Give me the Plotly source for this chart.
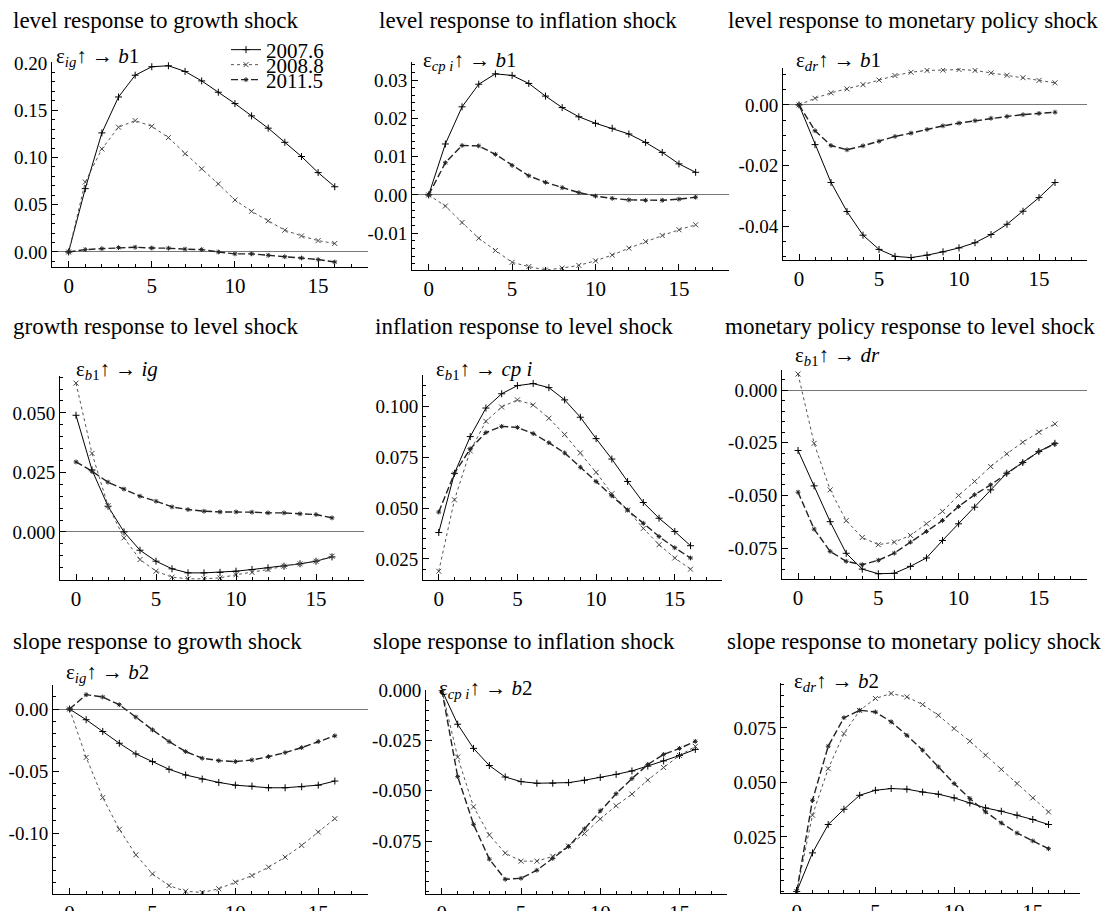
import plotly.graph_objects as go

# ---------------- data ----------------
horizon = list(range(17))
vintages = ["2007.6", "2008.8", "2011.5"]

# level response to growth shock
b1_ig_2007 = [0.000, 0.067, 0.126, 0.164, 0.187, 0.196, 0.197, 0.191, 0.181, 0.169, 0.157, 0.144, 0.131, 0.116, 0.101, 0.084, 0.069]
b1_ig_2008 = [0.000, 0.074, 0.109, 0.132, 0.139, 0.133, 0.121, 0.104, 0.088, 0.072, 0.055, 0.043, 0.033, 0.023, 0.017, 0.012, 0.009]
b1_ig_2011 = [0.000, 0.0025, 0.0035, 0.0046, 0.0050, 0.0042, 0.0040, 0.0030, 0.0025, 0.0000, -0.0020, -0.0020, -0.0035, -0.0050, -0.0064, -0.0080, -0.0106]

# level response to inflation shock
b1_cpi_2007 = [0.0, 0.0133, 0.0230, 0.0289, 0.0316, 0.0312, 0.0291, 0.0258, 0.0228, 0.0204, 0.0187, 0.0174, 0.0159, 0.0137, 0.0111, 0.0081, 0.0059]
b1_cpi_2008 = [0.0, -0.0029, -0.0072, -0.0113, -0.0145, -0.0176, -0.0187, -0.0196, -0.0191, -0.0184, -0.0172, -0.0157, -0.0139, -0.0122, -0.0106, -0.0091, -0.0078]
b1_cpi_2011 = [0.0, 0.0084, 0.0129, 0.0128, 0.0106, 0.0077, 0.0050, 0.0033, 0.0019, 0.0006, -0.0003, -0.0009, -0.0013, -0.0014, -0.0014, -0.0011, -0.0006]

# level response to monetary policy shock
b1_dr_2007 = [0.0, -0.0131, -0.0256, -0.0352, -0.0430, -0.0477, -0.0500, -0.0504, -0.0496, -0.0485, -0.0472, -0.0455, -0.0428, -0.0394, -0.0351, -0.0306, -0.0256]
b1_dr_2008 = [0.0, 0.0022, 0.0040, 0.0053, 0.0067, 0.0082, 0.0097, 0.0108, 0.0114, 0.0115, 0.0117, 0.0114, 0.0106, 0.0098, 0.0090, 0.0081, 0.0073]
b1_dr_2011 = [0.0, -0.0085, -0.0134, -0.0148, -0.0135, -0.0120, -0.0104, -0.0093, -0.0081, -0.0069, -0.0060, -0.0052, -0.0044, -0.0038, -0.0032, -0.0028, -0.0024]

# growth response to level shock
ig_b1_2007 = [0.0490, 0.0260, 0.0108, 0.0000, -0.0077, -0.0123, -0.0155, -0.0172, -0.0172, -0.0170, -0.0165, -0.0158, -0.0151, -0.0144, -0.0134, -0.0123, -0.0105]
ig_b1_2008 = [0.0625, 0.0330, 0.0110, -0.0025, -0.0116, -0.0165, -0.0190, -0.0197, -0.0197, -0.0193, -0.0180, -0.0170, -0.0158, -0.0144, -0.0134, -0.0123, -0.0102]
ig_b1_2011 = [0.0294, 0.0255, 0.0209, 0.0180, 0.0150, 0.0129, 0.0105, 0.0094, 0.0087, 0.0084, 0.0084, 0.0083, 0.0080, 0.0080, 0.0076, 0.0073, 0.0059]

# inflation response to level shock
cpi_b1_2007 = [0.038, 0.067, 0.085, 0.099, 0.106, 0.110, 0.111, 0.109, 0.103, 0.0945, 0.084, 0.074, 0.063, 0.0527, 0.045, 0.0385, 0.0315]
cpi_b1_2008 = [0.019, 0.054, 0.078, 0.0925, 0.0995, 0.103, 0.1005, 0.094, 0.086, 0.077, 0.0675, 0.057, 0.049, 0.040, 0.032, 0.0255, 0.020]
cpi_b1_2011 = [0.048, 0.067, 0.079, 0.087, 0.090, 0.0895, 0.0865, 0.082, 0.077, 0.070, 0.063, 0.056, 0.049, 0.0425, 0.036, 0.0305, 0.0255]

# monetary policy response to level shock
dr_b1_2007 = [-0.0287, -0.0455, -0.0625, -0.0775, -0.0850, -0.0872, -0.0870, -0.0837, -0.0797, -0.0714, -0.0635, -0.0556, -0.0474, -0.0395, -0.0344, -0.0292, -0.0253]
dr_b1_2008 = [0.0076, -0.0253, -0.0474, -0.0620, -0.0700, -0.0734, -0.0722, -0.0690, -0.0635, -0.0576, -0.0500, -0.0434, -0.0363, -0.0303, -0.0248, -0.0200, -0.0161]
dr_b1_2011 = [-0.0485, -0.0660, -0.0766, -0.0813, -0.0829, -0.0808, -0.0774, -0.0722, -0.0671, -0.0619, -0.0553, -0.0497, -0.0450, -0.0395, -0.0344, -0.0292, -0.0256]

# slope response to growth shock
b2_ig_2007 = [0.0, -0.0086, -0.0181, -0.0276, -0.0362, -0.0424, -0.0486, -0.0532, -0.0565, -0.0592, -0.0614, -0.0622, -0.0635, -0.0635, -0.0627, -0.0614, -0.0581]
b2_ig_2008 = [0.0, -0.039, -0.0714, -0.097, -0.1176, -0.133, -0.1424, -0.147, -0.148, -0.145, -0.1397, -0.1343, -0.1276, -0.1195, -0.110, -0.0992, -0.0884]
b2_ig_2011 = [0.0, 0.0116, 0.0097, 0.0035, -0.0065, -0.0168, -0.0262, -0.0343, -0.0397, -0.0416, -0.0424, -0.0411, -0.0384, -0.0351, -0.0311, -0.0262, -0.0216]

# slope response to inflation shock
b2_cpi_2007 = [0.0, -0.0170, -0.0290, -0.0375, -0.0432, -0.0455, -0.0463, -0.0463, -0.0460, -0.0448, -0.0434, -0.0419, -0.0402, -0.0378, -0.0352, -0.0325, -0.0295]
b2_cpi_2008 = [0.0, -0.0333, -0.0580, -0.0720, -0.0810, -0.0850, -0.0850, -0.0826, -0.0775, -0.0713, -0.0640, -0.0575, -0.0517, -0.0447, -0.0385, -0.0325, -0.0280]
b2_cpi_2011 = [0.0, -0.0430, -0.0667, -0.0840, -0.0940, -0.0935, -0.0895, -0.0836, -0.0777, -0.0690, -0.0600, -0.0515, -0.0440, -0.0370, -0.0320, -0.0290, -0.0255]

# slope response to monetary policy shock
b2_dr_2007 = [0.0, 0.0177, 0.0307, 0.0377, 0.0441, 0.0464, 0.0472, 0.0469, 0.0456, 0.0446, 0.0429, 0.0406, 0.0383, 0.0368, 0.0350, 0.0330, 0.0307]
b2_dr_2008 = [0.0, 0.0350, 0.0563, 0.0724, 0.0830, 0.0885, 0.0908, 0.0892, 0.0857, 0.0808, 0.0747, 0.0689, 0.0625, 0.0560, 0.0495, 0.0429, 0.0365]
b2_dr_2011 = [0.0, 0.0418, 0.0666, 0.0797, 0.0831, 0.0823, 0.0778, 0.0716, 0.0648, 0.0571, 0.0495, 0.0426, 0.0365, 0.0314, 0.0268, 0.0232, 0.0196]

panel_titles = [
    "level response to growth shock", "level response to inflation shock", "level response to monetary policy shock",
    "growth response to level shock", "inflation response to level shock", "monetary policy response to level shock",
    "slope response to growth shock", "slope response to inflation shock", "slope response to monetary policy shock",
]
panel_labels = [
    "ε<sub><i>ig</i></sub>↑ → <i>b</i>1", "ε<sub><i>cp i</i></sub>↑ → <i>b</i>1", "ε<sub><i>dr</i></sub>↑ → <i>b</i>1",
    "ε<sub><i>b</i>1</sub>↑ → <i>ig</i>", "ε<sub><i>b</i>1</sub>↑ → <i>cp i</i>", "ε<sub><i>b</i>1</sub>↑ → <i>dr</i>",
    "ε<sub><i>ig</i></sub>↑ → <i>b</i>2", "ε<sub><i>cp i</i></sub>↑ → <i>b</i>2", "ε<sub><i>dr</i></sub>↑ → <i>b</i>2",
]
panel_series = [
    (b1_ig_2007, b1_ig_2008, b1_ig_2011),
    (b1_cpi_2007, b1_cpi_2008, b1_cpi_2011),
    (b1_dr_2007, b1_dr_2008, b1_dr_2011),
    (ig_b1_2007, ig_b1_2008, ig_b1_2011),
    (cpi_b1_2007, cpi_b1_2008, cpi_b1_2011),
    (dr_b1_2007, dr_b1_2008, dr_b1_2011),
    (b2_ig_2007, b2_ig_2008, b2_ig_2011),
    (b2_cpi_2007, b2_cpi_2008, b2_cpi_2011),
    (b2_dr_2007, b2_dr_2008, b2_dr_2011),
]
y_tickvals = [
    [0.00, 0.05, 0.10, 0.15, 0.20],
    [-0.01, 0.00, 0.01, 0.02, 0.03],
    [-0.04, -0.02, 0.00],
    [0.000, 0.025, 0.050],
    [0.025, 0.050, 0.075, 0.100],
    [-0.075, -0.050, -0.025, 0.000],
    [-0.10, -0.05, 0.00],
    [-0.075, -0.050, -0.025, 0.000],
    [0.025, 0.050, 0.075],
]
y_decimals = [2, 2, 2, 3, 3, 3, 2, 3, 3]
x_tickvals = [0, 5, 10, 15]

# ---------------- layout / style ----------------
OFF = 8                      # page body margin of the browser
W, H = 1110 - OFF, 911 - OFF
SERIF = "Liberation Serif"
boxes = [  # left, right, top, bottom (screen px)
    (52, 368, 62, 267), (412, 729, 62, 270), (783, 1087, 68, 260),
    (60, 364, 376, 580), (423, 722, 375, 580), (782, 1087, 370, 579),
    (53, 368, 685, 894), (426, 727, 690, 894), (781, 1080, 683, 893),
]
y_ranges = [
    [-0.0159, 0.201], [-0.0196, 0.0347], [-0.0512, 0.0122],
    [-0.0202, 0.0655], [0.0147, 0.1152], [-0.0897, 0.0095],
    [-0.1492, 0.0194], [-0.1013, 0.0], [-0.0007, 0.0956],
]
minor_dy = [0.01, 0.002, 0.005, 0.005, 0.005, 0.005, 0.01, 0.005, 0.005]
show_zero = [True, True, True, True, False, True, True, False, False]
title_pos = [(11, 21), (377, 21), (726, 21), (11, 326), (373, 326), (723, 326), (11, 641), (371, 641), (725, 641)]
label_pos = [(54, 57), (421, 61), (794, 61), (74, 370), (434, 370), (793, 356), (64, 673), (437, 689), (792, 682)]


def px_x(v):
    return (v - OFF) / W


def px_y(v):
    return 1 - (v - OFF) / H


styles = [
    dict(line=dict(color="black", width=1), marker=dict(symbol="cross-thin", size=5, line=dict(color="black", width=1))),
    dict(line=dict(color="#555", width=1, dash="dot"), marker=dict(symbol="x-thin", size=5, line=dict(color="#444", width=1))),
    dict(line=dict(color="#222", width=1.4, dash="7px,3px"), marker=dict(symbol="asterisk-open", size=4, line=dict(color="#222", width=1))),
]
legend_ids = ["legend", "legend2", "legend3"]

fig = go.Figure()
layout = dict(
    width=W, height=H, margin=dict(l=0, r=0, t=0, b=0, autoexpand=False),
    paper_bgcolor="white", plot_bgcolor="white",
    font=dict(family=SERIF, color="black"),
    annotations=[],
)

for i in range(9):
    sfx = "" if i == 0 else str(i + 1)
    l, r, t, b = boxes[i]
    for k in range(3):
        fig.add_trace(go.Scatter(
            x=horizon, y=panel_series[i][k], mode="lines+markers",
            name=vintages[k], xaxis="x" + sfx, yaxis="y" + sfx,
            showlegend=(i == 0), legend=legend_ids[k], **styles[k],
        ))
    layout["xaxis" + sfx] = dict(
        domain=[px_x(l), px_x(r)], range=[-1, 18], anchor="y" + sfx,
        showline=True, linecolor="black", linewidth=1, showgrid=False, zeroline=False,
        tickmode="array", tickvals=x_tickvals, ticktext=[str(v) for v in x_tickvals],
        ticks="inside", ticklen=6, tickcolor="black",
        tickfont=dict(family=SERIF, size=21, color="black"),
        minor=dict(tickmode="linear", tick0=0, dtick=1, ticks="inside", ticklen=3, tickcolor="black", showgrid=False),
    )
    layout["yaxis" + sfx] = dict(
        domain=[px_y(b), px_y(t)], range=y_ranges[i], anchor="x" + sfx,
        showline=True, linecolor="black", linewidth=1, showgrid=False,
        zeroline=show_zero[i], zerolinecolor="#777", zerolinewidth=1,
        tickmode="array", tickvals=y_tickvals[i],
        ticktext=[f"{v:.{y_decimals[i]}f}" for v in y_tickvals[i]],
        ticks="inside", ticklen=6, tickcolor="black",
        tickfont=dict(family=SERIF, size=19, color="black"),
        minor=dict(tickmode="linear", tick0=0, dtick=minor_dy[i], ticks="inside", ticklen=3, tickcolor="black", showgrid=False),
    )
    tx, ty = title_pos[i]
    layout["annotations"].append(dict(
        text=panel_titles[i], x=px_x(tx), y=px_y(ty), xref="paper", yref="paper",
        xanchor="left", yanchor="middle", showarrow=False,
        font=dict(family=SERIF, size=23, color="black"),
    ))
    lx, ly = label_pos[i]
    layout["annotations"].append(dict(
        text=panel_labels[i], x=px_x(lx), y=px_y(ly), xref="paper", yref="paper",
        xanchor="left", yanchor="middle", showarrow=False,
        font=dict(family=SERIF, size=21, color="black"),
    ))

legend_rows = [50, 65, 80]
for k, lid in enumerate(legend_ids):
    layout[lid] = dict(
        x=px_x(226), y=px_y(legend_rows[k]), xanchor="left", yanchor="middle",
        bgcolor="rgba(0,0,0,0)", borderwidth=0,
        font=dict(family=SERIF, size=21, color="black"),
        itemwidth=30, tracegroupgap=0,
    )

fig.update_layout(**layout)
fig.write_html("out.html")
